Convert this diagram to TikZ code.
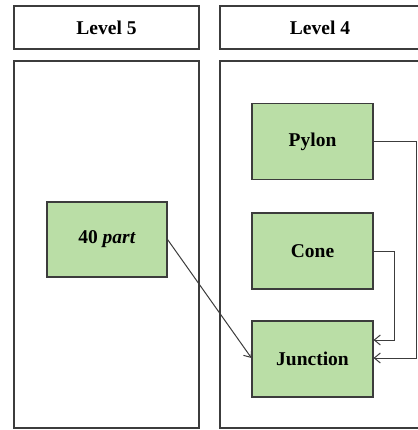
\documentclass[tikz,border=0pt]{standalone}
\usepackage{fontspec}
\setmainfont{Liberation Serif}
\usetikzlibrary{arrows.meta}
\definecolor{partgreen}{RGB}{186,222,166}
\definecolor{edgegray}{RGB}{60,60,60}
\begin{document}
\begin{tikzpicture}[x=1pt,y=-1pt,
  panel/.style={draw=edgegray,line width=1.1pt,rectangle,inner sep=0pt},
  header/.style={panel,font=\fontsize{19.5}{22}\selectfont\bfseries},
  partbox/.style={draw=edgegray,line width=1.1pt,fill=partgreen,rectangle,inner sep=0pt,
    minimum width=121pt,minimum height=76pt,font=\fontsize{19.5}{22}\selectfont\bfseries},
  link/.style={draw=edgegray,line width=1pt,-{Straight Barb[length=6pt,width=10pt]}}]
\useasboundingbox (0,0) rectangle (417,430);
% column headers
\node[header,minimum width=185pt,minimum height=43pt] (h5) at (106.5,27.5) {Level 5};
\node[header,minimum width=200pt,minimum height=43pt] (h4) at (320,27.5) {Level 4};
% column panels
\node[panel,minimum width=185pt,minimum height=367pt] (p5) at (106.5,244.5) {};
\node[panel,minimum width=200pt,minimum height=367pt] (p4) at (320,244.5) {};
% parts
\node[partbox,minimum width=120pt,minimum height=75pt] (part) at (107,239.5) {40 \textit{part}};
\node[partbox] (pylon) at (312.5,141.5) {Pylon};
\node[partbox] (cone) at (312.5,251) {Cone};
\node[partbox] (junction) at (312.5,359) {Junction};
% connections
\coordinate (pylonturn) at (416,142);
\coordinate (coneturn) at (394,251);
\draw[link] (pylon.east |- 0,142) -- (pylonturn) |- (junction.east |- 0,358);
\draw[link] (cone.east) -- (coneturn) |- (junction.east |- 0,340);
\draw[link] (part.east) -- (junction.west |- 0,358);
\end{tikzpicture}
\end{document}
